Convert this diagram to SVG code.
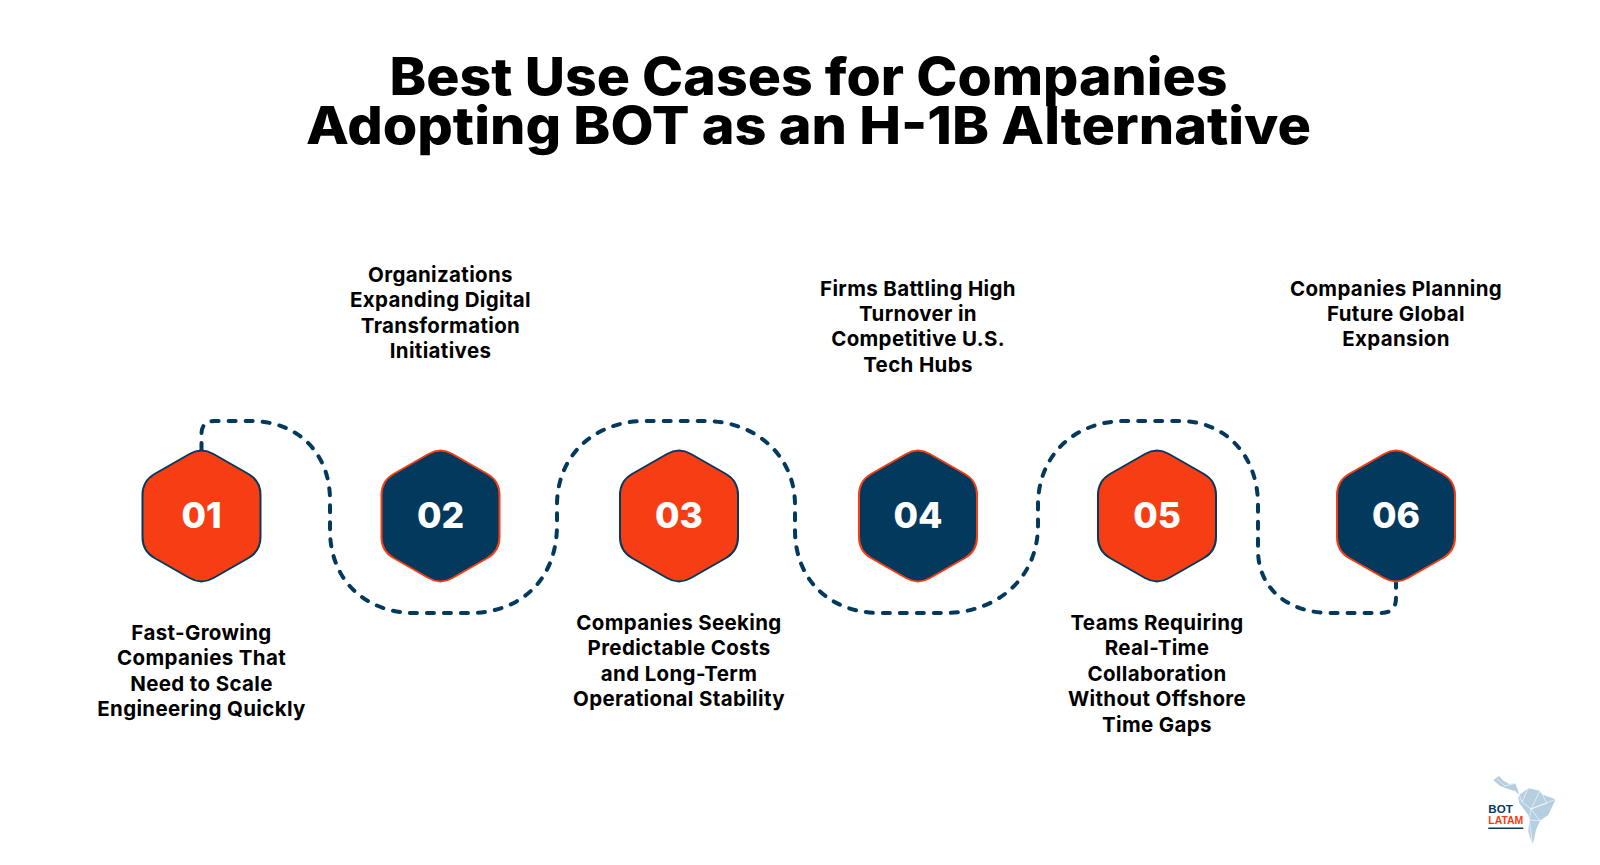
<svg xmlns="http://www.w3.org/2000/svg" width="1600" height="865" viewBox="0 0 1600 865">
<style>
text{font-family:"Inter","Liberation Sans",sans-serif;text-anchor:middle;fill:#000}
.t{font-size:52px;font-weight:800}
.l{font-size:20.500px;font-weight:700;letter-spacing:.35px}
.n{font-size:35.500px;font-weight:800;fill:#fff}
.o{fill:#f73d13;stroke:#04395e;stroke-width:2;stroke-linejoin:round}
.b{fill:#04395e;stroke:#f73d13;stroke-width:2;stroke-linejoin:round}
.c{fill:none;stroke:#04395e;stroke-width:4;stroke-dasharray:7 10;stroke-linecap:round}
.lg{font-family:"Liberation Sans",sans-serif;font-size:11.600px;font-weight:700;text-anchor:start}
</style>
<defs>
<path id="hex" d="M-12 -62 Q0 -69 12 -62 L47 -42 Q59 -35 59 -21 V21 Q59 35 47 42 L12 62 Q0 69 -12 62 L-47 42 Q-59 35 -59 21 V-21 Q-59 -35 -47 -42 Z"/>
</defs>
<g id="title">
<text class="t" x="808.500" y="94.500" textLength="838" lengthAdjust="spacingAndGlyphs">Best Use Cases for Companies</text>
<text class="t" x="808.500" y="143.500" textLength="1005" lengthAdjust="spacingAndGlyphs">Adopting BOT as an H-1B Alternative</text>
</g>
<g id="connectors">
<path class="c" d="M201.500 450V434Q201.500 421 215 421H250C300 421 330 455 330 500V530C330 580 365 613 415 613H470C520 613 557 580 557 525V505C557 455 595 421 645 421H705C755 421 795 455 795 505V530C795 580 830 613 880 613H945C995 613 1038 580 1038 525V505C1038 455 1075 421 1125 421H1180C1225 421 1258 455 1258 505V550C1258 590 1290 613 1330 613H1381Q1396 613 1396 598V582"/>
</g>
<g id="n1"><use href="#hex" class="o" x="201.500" y="516"/><text class="n" x="201.500" y="528">01</text>
<text class="l" x="201.500" y="640">Fast-Growing</text><text class="l" x="201.500" y="665.400">Companies That</text><text class="l" x="201.500" y="690.800">Need to Scale</text><text class="l" x="201.500" y="716.200">Engineering Quickly</text></g>
<g id="n2"><use href="#hex" class="b" x="440.500" y="516"/><text class="n" x="440.500" y="528">02</text>
<text class="l" x="440.500" y="282">Organizations</text><text class="l" x="440.500" y="307.400">Expanding Digital</text><text class="l" x="440.500" y="332.800">Transformation</text><text class="l" x="440.500" y="358.200">Initiatives</text></g>
<g id="n3"><use href="#hex" class="o" x="679" y="516"/><text class="n" x="679" y="528">03</text>
<text class="l" x="679" y="630">Companies Seeking</text><text class="l" x="679" y="655.400">Predictable Costs</text><text class="l" x="679" y="680.800">and Long-Term</text><text class="l" x="679" y="706.200">Operational Stability</text></g>
<g id="n4"><use href="#hex" class="b" x="918" y="516"/><text class="n" x="918" y="528">04</text>
<text class="l" x="918" y="295.500">Firms Battling High</text><text class="l" x="918" y="320.900">Turnover in</text><text class="l" x="918" y="346.300">Competitive U.S.</text><text class="l" x="918" y="371.700">Tech Hubs</text></g>
<g id="n5"><use href="#hex" class="o" x="1157" y="516"/><text class="n" x="1157" y="528">05</text>
<text class="l" x="1157" y="630">Teams Requiring</text><text class="l" x="1157" y="655.400">Real-Time</text><text class="l" x="1157" y="680.800">Collaboration</text><text class="l" x="1157" y="706.200">Without Offshore</text><text class="l" x="1157" y="731.600">Time Gaps</text></g>
<g id="n6"><use href="#hex" class="b" x="1396" y="516"/><text class="n" x="1396" y="528">06</text>
<text class="l" x="1396" y="295.500">Companies Planning</text><text class="l" x="1396" y="320.900">Future Global</text><text class="l" x="1396" y="346.300">Expansion</text></g>
<g id="logo">
<path fill="#b5cfe0" d="M1493.300 780L1499.300 776L1503.300 780.700L1509.300 784L1515 783.300L1517.300 788.300L1519.300 795L1515 791L1508 789L1500 786Z"/>
<path fill="#b5cfe0" d="M1519.300 795L1528.300 788.300L1540 790.700L1543.300 795L1555.700 799.300L1548.300 815L1540 820.700L1536 830L1532.700 845L1528.300 831.700L1529.300 820L1528.300 815L1519.300 803.300L1518.300 797.300Z"/>
<path fill="none" stroke="#fff" stroke-width=".6" d="M1528.300 788.300L1522 802L1531 809L1540 790.700L1547 803L1531 809L1555.700 799.300M1531 809L1529.300 820L1540 820.700L1531 809M1522 802L1519.300 795M1497 779L1505 786L1515 783.300M1529.300 820L1532.700 845"/>
<text class="lg" x="1488.300" y="812.700" textLength="24.400" lengthAdjust="spacingAndGlyphs" style="fill:#04395e">BOT</text>
<text class="lg" x="1488.300" y="824.300" textLength="35" lengthAdjust="spacingAndGlyphs" style="fill:#f73d13">LATAM</text>
<rect x="1488.300" y="827.500" width="35" height="1.500" fill="#04395e"/>
</g>
</svg>
